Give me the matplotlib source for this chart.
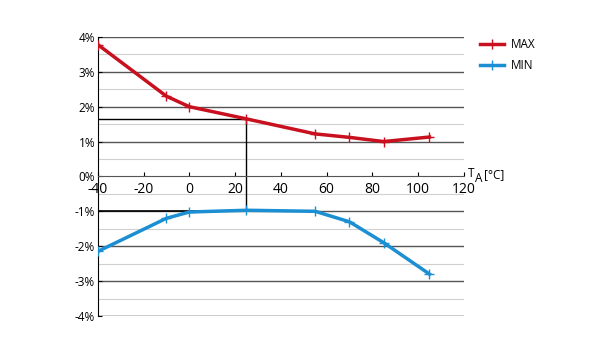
import matplotlib
matplotlib.use("Agg")
import matplotlib.pyplot as plt
import numpy as np

temps = [-40, -10, 0, 25, 55, 70, 85, 105]
max_err = [3.78, 2.3, 2.0, 1.65, 1.22, 1.12, 1.0, 1.13]
min_err = [-2.15, -1.2, -1.02, -0.97, -1.0, -1.3, -1.9, -2.8]
xticks = [-40, -20, 0, 20, 40, 60, 80, 100, 120]
yticks = [-4, -3, -2, -1, 0, 1, 2, 3, 4]

red = '#c8101e'
blue = '#1b8fd2'

plt.rcParams['font.family'] = ['Open Sans', 'DejaVu Sans']
fig = plt.figure(figsize=(6, 3.55), dpi=100)
ax = fig.add_axes([0.163, 0.110, 0.610, 0.786])

# grid
for y in np.arange(-3.5, 4.0, 1.0):
    ax.axhline(y, color='#d0d0d0', lw=0.8, zorder=0)
for y in yticks:
    if y not in (0, -4):
        ax.axhline(y, color='#555555', lw=1.0, zorder=0)

# guide lines at 25 degC
ax.plot([-40, 25], [max_err[3], max_err[3]], color='black', lw=1.0, zorder=1)
ax.plot([25, 25], [max_err[3], min_err[3]], color='black', lw=1.0, zorder=1)
ax.plot([-40, 25], [-1, -1], color='black', lw=1.2, zorder=1)

ax.plot(temps, max_err, color=red, lw=2.5, marker='+', ms=7, mew=1.0, label='MAX', zorder=3)
ax.plot(temps, min_err, color=blue, lw=2.5, marker='+', ms=7, mew=1.0, label='MIN', zorder=3)

ax.set_xlim(-40, 120)
ax.set_ylim(-4, 4)
ax.set_yticks(yticks)
ax.set_yticklabels([f'{v}%' for v in yticks], fontsize=8.5)
ax.set_xticks(xticks)
ax.set_xticklabels([str(v) for v in xticks], fontsize=8.5)
ax.get_xticklabels()[-1].set_horizontalalignment('right')

ax.spines['top'].set_visible(False)
ax.spines['right'].set_visible(False)
ax.spines['bottom'].set_position(('data', 0))
ax.spines['left'].set_color('black')
ax.spines['bottom'].set_color('#555555')
ax.axhline(-4, color='black', lw=1.0, zorder=1)
ax.tick_params(axis='x', direction='in', length=3, pad=4)
ax.tick_params(axis='y', direction='in', length=3, pad=2)

fig.text(0.780, 0.493, 'T', fontsize=8.5, va='bottom')
fig.text(0.792, 0.478, 'A', fontsize=8.5, va='bottom')
fig.text(0.806, 0.490, '[°C]', fontsize=8.5, va='bottom')

ax.legend(loc='upper left', bbox_to_anchor=(1.015, 1.035), frameon=False,
          fontsize=8.5, handlelength=2.0, handletextpad=0.6, labelspacing=0.7)

fig.savefig('out.png', dpi=100)
